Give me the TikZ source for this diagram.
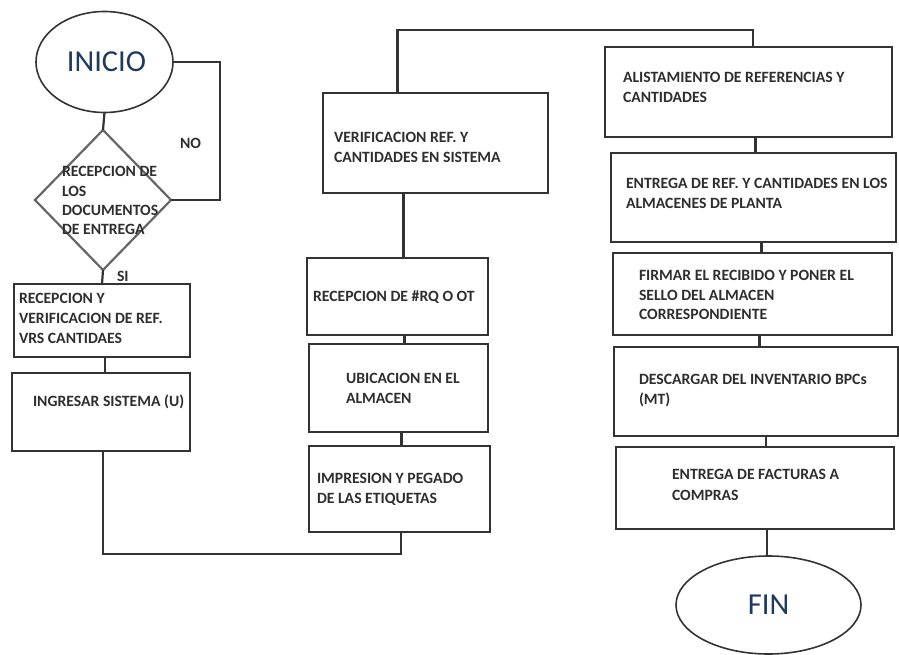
\documentclass[tikz,border=0pt]{standalone}
\usepackage{fontspec}
\setmainfont{Carlito}
\usetikzlibrary{shapes.geometric,calc}
\definecolor{edge}{HTML}{333333}
\definecolor{ink}{HTML}{2E2E2E}
\definecolor{title}{HTML}{1F3A5C}
\tikzset{
  stepbox/.style={draw=edge, line width=2.2bp, rectangle, inner sep=0pt, outer sep=0pt, anchor=north west},
  terminal/.style={draw=edge, line width=1.6bp, ellipse, inner sep=0pt, outer sep=0pt, text=title,
    font=\fontsize{30.5bp}{32bp}\selectfont},
  decision/.style={draw=edge!75, line width=2.2bp, diamond, inner sep=0pt, outer sep=0pt},
  txt/.style={anchor=base west, inner sep=0pt, outer sep=0pt, text=ink,
    font=\fontsize{15.7bp}{20bp}\selectfont\bfseries},
  link/.style={draw=edge, line width=2.2bp},
}
\begin{document}
\begin{tikzpicture}[x=1bp, y=-1bp]
\useasboundingbox (0,0) rectangle (899,655);

% ---- left column ----
\node[terminal, minimum width=137bp, minimum height=101bp] (ini) at (104.5,62) {\hspace*{4bp}INICIO};
\node[decision, minimum width=136bp, minimum height=140bp] (dia) at (103,200) {};
\node[stepbox, minimum width=176bp, minimum height=73bp] (b1) at (14,284) {};
\node[stepbox, minimum width=178bp, minimum height=78bp] (b2) at (12,373) {};

\node[txt] (tdia1) at (62,177) {RECEPCION DE};
\node[txt] (tdia2) at (62,196) {LOS};
\node[txt] (tdia3) at (62,215) {DOCUMENTOS};
\node[txt] (tdia4) at (62,234) {DE ENTREGA};
\node[txt] (tno) at (180,149) {NO};
\node[txt] (tsi) at (117,281) {SI};
\node[txt] (tb1a) at (19,303) {RECEPCION Y};
\node[txt] (tb1b) at (19,323) {VERIFICACION DE REF.};
\node[txt] (tb1c) at (19,343) {VRS CANTIDAES};
\node[txt] (tb2) at (33,406) {INGRESAR SISTEMA (U)};

% ---- middle column ----
\node[stepbox, minimum width=225bp, minimum height=100bp] (ver) at (323,93) {};
\node[stepbox, minimum width=181bp, minimum height=77bp] (rq) at (307,258) {};
\node[stepbox, minimum width=179bp, minimum height=88bp] (ubi) at (309,344) {};
\node[stepbox, minimum width=181bp, minimum height=86bp] (imp) at (309,446) {};

\node[txt] (tver1) at (334,143) {VERIFICACION REF. Y};
\node[txt] (tver2) at (334,163) {CANTIDADES EN SISTEMA};
\node[txt] (trq) at (313,301) {RECEPCION DE \#RQ O OT};
\node[txt] (tubi1) at (346,383) {UBICACION EN EL};
\node[txt] (tubi2) at (346,403) {ALMACEN};
\node[txt] (timp1) at (317,483) {IMPRESION Y PEGADO};
\node[txt] (timp2) at (317,503) {DE LAS ETIQUETAS};

% ---- right column ----
\node[stepbox, minimum width=287bp, minimum height=90bp] (alis) at (605,47) {};
\node[stepbox, minimum width=285bp, minimum height=89bp] (ent) at (611,153) {};
\node[stepbox, minimum width=279bp, minimum height=82bp] (firm) at (613,253) {};
\node[stepbox, minimum width=284bp, minimum height=89bp] (desc) at (614,347) {};
\node[stepbox, minimum width=278bp, minimum height=82bp] (fac) at (616,447) {};
\node[terminal, minimum width=185bp, minimum height=98bp] (fin) at (768.5,605) {FIN};

\node[txt] (talis1) at (623,83) {ALISTAMIENTO DE REFERENCIAS Y};
\node[txt] (talis2) at (623,103) {CANTIDADES};
\node[txt] (tent1) at (626,188) {ENTREGA DE REF. Y CANTIDADES EN LOS};
\node[txt] (tent2) at (626,208) {ALMACENES DE PLANTA};
\node[txt] (tfirm1) at (639,280) {FIRMAR EL RECIBIDO Y PONER EL};
\node[txt] (tfirm2) at (639,300) {SELLO DEL ALMACEN};
\node[txt] (tfirm3) at (639,319) {CORRESPONDIENTE};
\node[txt] (tdesc1) at (639,384) {DESCARGAR DEL INVENTARIO BPCs};
\node[txt] (tdesc2) at (639,404) {(MT)};
\node[txt] (tfac1) at (672,479) {ENTREGA DE FACTURAS A};
\node[txt] (tfac2) at (672,500) {COMPRAS};

% ---- connectors ----
\coordinate (loopR) at (220,62);
\coordinate (lowrun) at (401,554);
\coordinate (toprun) at (753,30);

\draw[link] (ini.south) -- (dia.north);
\draw[link] (ini.east) -- (loopR) |- (dia.east);
\draw[link] (dia.south) -- (b1.north);
\draw[link] ([xshift=3bp]b1.south) -- ([xshift=3bp]b1.south |- b2.north);
\draw[link] ([xshift=2bp]b2.south) |- (lowrun) -- (lowrun |- imp.south);
\draw[link] ([xshift=2bp]imp.north) -- ([xshift=2bp]imp.north |- ubi.south);
\draw[link] ([xshift=6bp]ubi.north) -- ([xshift=6bp]ubi.north |- rq.south);
\draw[link] ([xshift=6bp]rq.north) -- ([xshift=6bp]rq.north |- ver.south);
\draw[link] ([xshift=-38bp]ver.north) |- (toprun) -- (toprun |- alis.north);
\draw[link] ([xshift=7bp]alis.south) -- ([xshift=7bp]alis.south |- ent.north);
\draw[link] ([xshift=8bp]ent.south) -- ([xshift=8bp]ent.south |- firm.north);
\draw[link] ([xshift=7bp]firm.south) -- ([xshift=7bp]firm.south |- desc.north);
\draw[link] ([xshift=10bp]desc.south) -- ([xshift=10bp]desc.south |- fac.north);
\draw[link] ([xshift=12bp]fac.south) -- ([xshift=12bp]fac.south |- fin.north);
\end{tikzpicture}
\end{document}
